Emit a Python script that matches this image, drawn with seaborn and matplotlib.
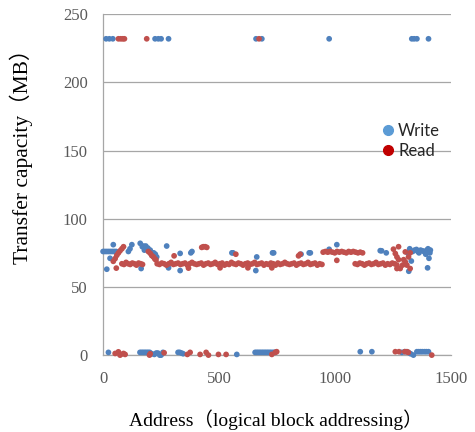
import matplotlib
matplotlib.use("Agg")
import pandas as pd
import matplotlib.pyplot as plt
import seaborn as sns
from matplotlib.lines import Line2D


# DATA
# points at the ~232 MB ceiling
top_y = 232
write_top_x = [13, 27, 42, 224, 238, 250, 282, 659, 684, 974, 1330, 1340, 1352, 1402]
read_top_x = [66, 76, 85, 92, 188, 672]

# write points around 60-82 MB
write_mid_x = [0, 8, 16, 24, 32, 40, 48, 56, 16, 30, 44, 109, 116, 124,
               160, 164, 169, 174, 178, 184, 188, 193, 198, 203, 207, 212, 218, 225, 231,
               274, 282, 332, 332, 378, 383, 555, 560, 658, 662, 730, 735, 853, 888, 893,
               974, 1007, 1194, 1200, 1220, 1312, 1317, 1321, 1328, 1334, 1342, 1350, 1356,
               1361, 1368, 1376, 1383, 1390, 1395, 1398, 1400, 1404, 1408, 1410]
write_mid_y = [76, 76, 76, 76, 76, 76, 76, 76, 63, 71, 81, 76, 78, 81,
               82, 63.5, 79.5, 80, 77, 80, 78, 78.5, 76, 77, 75, 73, 75, 74, 72,
               80, 64, 74.6, 62, 75, 76, 75, 75, 62, 72, 75, 75, 74, 75, 75,
               77.6, 81, 76.6, 76.5, 75, 75, 61.5, 78, 69, 76, 77, 77.5, 76,
               75, 77, 76.5, 76, 74, 77, 64, 78, 71, 75, 77]

# write points near 0 MB
write_low_x = [23, 159, 166, 173, 180, 187, 194, 201, 210, 221, 229, 236, 244, 250, 258,
               323, 330, 338, 345, 576, 655, 662, 669, 676, 683, 690, 697, 704, 711, 718,
               725, 733, 740,
               1108, 1158, 1287, 1300, 1315, 1325, 1337, 1352, 1360, 1368, 1376, 1385, 1393, 1402]
write_low_y = [2, 2, 2, 2, 2, 2, 2, 2, 1, 0.5, 1.5, 1.5, 0, 0, 2,
               2, 2, 1.5, 1, 0.5, 2, 2, 2, 2, 2, 2, 2, 2, 2, 2,
               2, 2, 2,
               2.5, 2.5, 2, 2.5, 2, 1, 0, 2.5, 2.5, 2.5, 2.5, 2.5, 2.5, 2.5]

# read: rising start, first band and the drop back to the band
read_start_x = [44, 52, 59, 66, 73, 81, 88, 57,
                81, 90, 99, 108, 117, 126, 135, 144, 153, 162, 170,
                195, 203, 210, 217, 223, 228]
read_start_y = [68.8, 70.8, 73.2, 74.9, 76.5, 78, 79.5, 63.8,
                67, 66.5, 68, 67, 66.5, 67.5, 67, 66, 67.5, 67, 66.5,
                76, 74.7, 73, 72, 70.5, 69.8]

# read: long band at ~67 MB
read_band_x = [233, 243, 253, 263, 273, 283, 293, 303, 313, 323,
               333, 343, 353, 363, 373, 383, 393, 403, 413, 423,
               433, 443, 453, 463, 473, 483, 493, 503, 513, 523,
               533, 543, 553, 563, 573, 583, 593, 603, 613, 623,
               633, 643, 653, 663, 673, 683, 693, 703, 713, 723,
               733, 743, 753, 763, 773, 783, 793, 803, 813, 823,
               833, 843, 853, 863, 873, 883, 893, 903, 913, 923,
               933, 943]
read_band_y = [67, 66.5, 67.5, 67, 66, 67, 68, 66.5, 67, 67.5,
               66.5, 67, 67.5, 66, 67, 68, 67, 66.5, 67, 67.5,
               66, 67, 67.5, 66.5, 67, 68, 66.5, 67, 67.5, 66,
               67, 66.5, 68, 67, 66.5, 67.5, 67, 66, 67, 67.5,
               66.5, 67, 68, 66.5, 67, 67.5, 66, 67, 66.5, 67.5,
               67, 66, 67.5, 66.5, 67, 68, 67, 66.5, 67, 67.5,
               66, 67, 67.5, 66.5, 67, 68, 66.5, 67, 67.5, 66,
               67, 66.5]

# read: raised band, last band, scattered points
read_rest_x = [425, 432, 440, 447,
               306, 368, 504, 572, 624, 727, 842, 849, 1007,
               948, 958, 968, 978, 988, 998, 1008, 1018, 1028, 1038, 1048, 1058,
               1068, 1078, 1088, 1098, 1108, 1118,
               1086, 1096, 1106, 1116, 1126, 1136, 1146, 1156, 1166, 1176,
               1186, 1196, 1206, 1216, 1226, 1236, 1246, 1256, 1266,
               1251, 1259, 1266, 1273, 1273, 1280, 1266, 1302, 1302, 1309,
               1316, 1323, 1323, 1290, 1295]
read_rest_y = [79, 79.5, 79.5, 79,
               72.8, 63.8, 64, 74, 64, 64, 72.8, 74, 69.5,
               75.5, 76, 75.5, 76, 75.5, 75, 76, 75.5, 76, 75.5, 75, 76,
               75.5, 76, 75.5, 75, 75.5, 75,
               67, 66.5, 67.5, 67, 66, 67, 67.5, 66.5, 67, 68,
               66.5, 67, 67.5, 66, 67, 66.5, 67.5, 67, 66,
               77.7, 74.5, 72, 70, 79.5, 63.5, 63.5, 68.3, 75.7, 66,
               72, 63.5, 75, 66, 70]

# read points near 0 MB
read_low_x = [52, 66, 73, 76, 88, 95, 200, 203, 263, 363, 375, 418, 444, 454, 497,
              530, 727, 742, 748, 1259, 1275, 1300, 1309, 1315, 1416]
read_low_y = [1.2, 2.4, 0, 0.5, 1.2, 0.5, 0, 1, 1.7, 0.5, 2, 0.5, 2, 0, 0.5,
              0.5, 0.5, 2, 2.5, 2.5, 2.5, 2.5, 2.5, 2, 0]


# BUILD TABLE (write first so read is drawn on top)
wx = write_top_x + write_mid_x + write_low_x
wy = [top_y] * len(write_top_x) + write_mid_y + write_low_y
rx = read_top_x + read_start_x + read_band_x + read_rest_x + read_low_x
ry = [top_y] * len(read_top_x) + read_start_y + read_band_y + read_rest_y + read_low_y

df = pd.DataFrame({
    "addr": wx + rx,
    "mb": wy + ry,
    "kind": ["Write"] * len(wx) + ["Read"] * len(rx),
})


# PLOT
sns.set_style("white")
plt.rcParams["font.family"] = ["Liberation Serif", "Noto Sans CJK JP"]

fig = plt.figure(figsize=(4.75, 4.32), dpi=100)
ax = fig.add_axes([0.217, 0.178, 0.733, 0.789])

sns.scatterplot(
    data=df, x="addr", y="mb", hue="kind",
    palette={"Write": "#4F81BD", "Read": "#C0504D"},
    s=17, linewidth=0, legend=False, ax=ax, clip_on=False, zorder=3
)

ax.set_xlim(0, 1500)
ax.set_ylim(0, 250)
ax.set_xticks([0, 500, 1000, 1500])
ax.set_yticks([0, 50, 100, 150, 200, 250])

grid_col = "#A6A6A6"
ax.yaxis.grid(True, color=grid_col, linewidth=0.9)
ax.xaxis.grid(False)
ax.set_axisbelow(True)
for side in ["top", "right"]:
    ax.spines[side].set_visible(False)
for side in ["left", "bottom"]:
    ax.spines[side].set_color(grid_col)
    ax.spines[side].set_linewidth(0.9)

ax.tick_params(axis="both", direction="out", color=grid_col, width=0.9,
               labelcolor="#595959", labelsize=12, pad=8)
ax.tick_params(axis="y", length=3)
ax.tick_params(axis="x", length=3.6)

ax.set_xlabel("Address（logical block addressing）", fontsize=14, color="black")
ax.set_ylabel("Transfer capacity（MB）", fontsize=15.5, color="black")
ax.xaxis.set_label_coords(0.497, -0.158)
ax.yaxis.set_label_coords(-0.2, 0.598)

handles = [
    Line2D([], [], marker="o", ls="", color="#5B9BD5", markersize=7),
    Line2D([], [], marker="o", ls="", color="#C00000", markersize=7),
]
ax.legend(handles, ["Write", "Read"], loc="center left",
          bbox_to_anchor=(0.804, 0.628), frameon=False,
          handlelength=0.6, handletextpad=0.3, labelspacing=0.25,
          borderaxespad=0, borderpad=0,
          prop={"family": "Lato", "size": 12})

plt.savefig("out.png", dpi=100)
